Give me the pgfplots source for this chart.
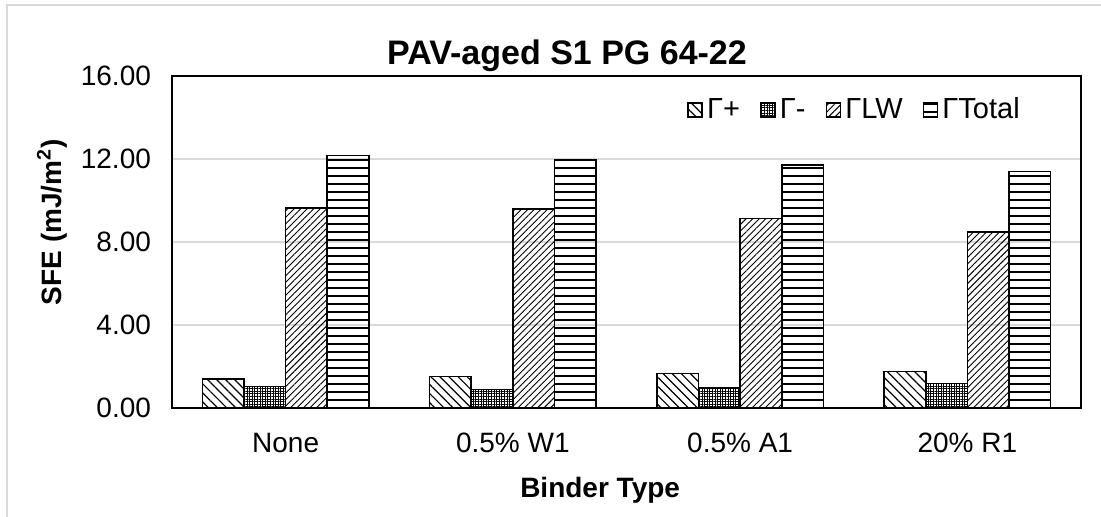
\documentclass[border=0pt]{standalone}
\usepackage{fontspec}
\setmainfont{Liberation Sans}
\usepackage{pgfplots}
\usepackage{pgfplotstable}
\pgfplotsset{compat=1.18}
\usetikzlibrary{patterns,patterns.meta}

\pgfdeclarepatternformonly{hlinesw}{\pgfpoint{-1pt}{-1pt}}{\pgfpoint{5pt}{5pt}}{\pgfpoint{4pt}{4pt}}{%
  \pgfsetlinewidth{0.9pt}%
  \pgfpathmoveto{\pgfpoint{-1pt}{2pt}}%
  \pgfpathlineto{\pgfpoint{5pt}{2pt}}%
  \pgfusepath{stroke}}

\pgfplotstableread{
x plus minus lw total
0 1.40 1.03 9.65 12.16
1 1.51 0.90 9.59 11.98
2 1.67 0.95 9.14 11.71
3 1.75 1.19 8.47 11.39
}\data

\begin{document}
\begin{tikzpicture}
\useasboundingbox (-86pt,-54pt) rectangle (464.5pt,204pt);
\draw[gray!30, line width=1pt] (-82.5pt,-70pt) rectangle (480pt,201.5pt);
\begin{axis}[
  at={(0pt,0pt)}, anchor=south west,
  scale only axis,
  width=454.5pt, height=166pt,
  ybar=0pt, bar width=20.8pt,
  xmin=-0.5, xmax=3.5,
  ymin=0, ymax=16,
  xtick=data,
  xticklabels={None,0.5\% W1,0.5\% A1,20\% R1},
  ytick={0,4,8,12,16},
  major tick length=0pt,
  ymajorgrids,
  major grid style={draw=black!15, line width=0.8pt},
  axis line style={line width=0.8pt},
  tick label style={font=\fontsize{14}{16}\selectfont},
  /pgf/number format/assume math mode=true,
  yticklabel style={/pgf/number format/fixed, /pgf/number format/fixed zerofill, /pgf/number format/precision=2, xshift=-7pt},
  xticklabel style={yshift=-9pt},
  xlabel={Binder Type},
  ylabel={SFE (mJ/m\textsuperscript{2})},
  xlabel style={at={(rel axis cs:0.471,-0.247)}, anchor=center, font=\bfseries\fontsize{14}{16}\selectfont},
  ylabel style={at={(rel axis cs:-0.132,0.56)}, anchor=center, font=\bfseries\fontsize{14}{16}\selectfont},
  legend style={at={(rel axis cs:0.944,0.898)}, anchor=east, draw=none, fill=none,
    legend columns=4, font=\fontsize{14.5}{16}\selectfont,
    /tikz/every even column/.append style={column sep=8pt}},
  legend image code/.code={\draw[#1, line width=0.9pt] (0pt,-3.5pt) rectangle (7pt,3.5pt);},
  every axis plot/.append style={draw=black, line width=0.8pt},
]
\addplot[pattern={Lines[angle=-45, distance=3.2pt, line width=0.6pt]}, pattern color=black] table[x=x,y=plus] {\data};
\addplot[pattern={Hatch[angle=0, distance=1.3pt, line width=0.5pt]}, pattern color=black] table[x=x,y=minus] {\data};
\addplot[pattern={Lines[angle=45, distance=2.3pt, line width=0.45pt]}, pattern color=black] table[x=x,y=lw] {\data};
\addplot[pattern=hlinesw, pattern color=black] table[x=x,y=total] {\data};
\legend{Γ+,Γ-,ΓLW,ΓTotal}
\end{axis}
\node[font=\bfseries\fontsize{17}{19}\selectfont] at (197.5pt,176pt) {PAV-aged S1 PG 64-22};
\end{tikzpicture}
\end{document}
